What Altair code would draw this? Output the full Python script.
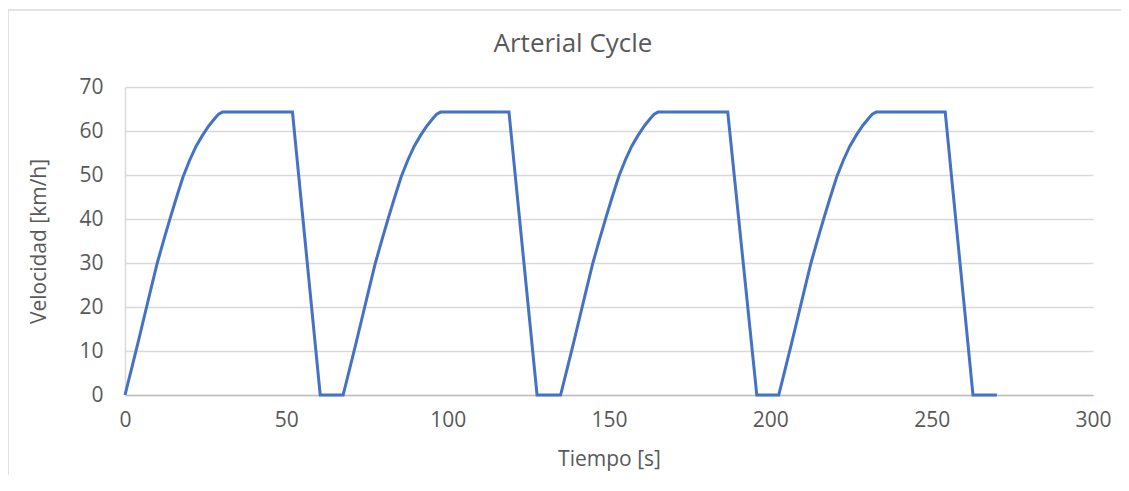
import altair as alt
import pandas as pd

tiempo = [
    0.0, 2.0, 4.0, 6.0, 8.0, 10.0, 12.0, 14.0, 16.0, 18.0, 20.0, 22.0, 24.0, 26.0, 28.0, 29.0, 30.2, 51.9, 60.5,
    67.6, 69.6, 71.6, 73.6, 75.6, 77.6, 79.6, 81.6, 83.6, 85.6, 87.6, 89.6, 91.6, 93.6, 95.6, 96.6, 97.8, 119.0, 127.7,
    135.0, 137.0, 139.0, 141.0, 143.0, 145.0, 147.0, 149.0, 151.0, 153.0, 155.0, 157.0, 159.0, 161.0, 163.0, 164.0, 165.2, 186.8, 195.8,
    202.6, 204.6, 206.6, 208.6, 210.6, 212.6, 214.6, 216.6, 218.6, 220.6, 222.6, 224.6, 226.6, 228.6, 230.6, 231.6, 232.8, 254.2, 262.8,
    270.2,
]
velocidad = [
    0, 5.9, 11.8, 17.9, 24.0, 30.0, 35.2, 40.2, 45.0, 49.6, 53.3, 56.5, 59.0, 61.2, 63.0, 63.8, 64.3, 64.3, 0,
    0, 5.9, 11.8, 17.9, 24.0, 30.0, 35.2, 40.2, 45.0, 49.6, 53.3, 56.5, 59.0, 61.2, 63.0, 63.8, 64.3, 64.3, 0,
    0, 5.9, 11.8, 17.9, 24.0, 30.0, 35.2, 40.2, 45.0, 49.6, 53.3, 56.5, 59.0, 61.2, 63.0, 63.8, 64.3, 64.3, 0,
    0, 5.9, 11.8, 17.9, 24.0, 30.0, 35.2, 40.2, 45.0, 49.6, 53.3, 56.5, 59.0, 61.2, 63.0, 63.8, 64.3, 64.3, 0,
    0,
]
x_ticks = [0, 50, 100, 150, 200, 250, 300]
y_ticks = [0, 10, 20, 30, 40, 50, 60, 70]
titulo = ["Arterial Cycle"]

df = pd.DataFrame({"t": tiempo, "v": velocidad, "i": list(range(len(tiempo)))})
df_title = pd.DataFrame({"label": titulo})

FONT = "Open Sans"
GREY = "#595959"
GRID = "#d9d9d9"

line = alt.Chart(df).mark_line(color="#4472C4", strokeWidth=3).encode(
    x=alt.X("t:Q", scale=alt.Scale(domain=[0, 300], nice=False),
            axis=alt.Axis(values=x_ticks, title="Tiempo [s]", grid=False,
                          domain=True, domainColor="#bfbfbf", domainWidth=1.5,
                          ticks=False, labelPadding=14, titlePadding=18,
                          labelFlush=False,
                          labelFontSize=21, titleFontSize=21, labelColor=GREY,
                          titleColor=GREY, labelFont=FONT, titleFont=FONT,
                          titleFontWeight="normal")),
    y=alt.Y("v:Q", scale=alt.Scale(domain=[0, 70], nice=False),
            axis=alt.Axis(values=y_ticks, title="Velocidad [km/h]", grid=True,
                          gridColor=GRID, gridWidth=1.5, domain=True,
                          domainColor=GRID, domainWidth=1.5, ticks=False,
                          labelFlush=False,
                          labelPadding=22, titlePadding=29, labelFontSize=21,
                          titleFontSize=21, labelColor=GREY, titleColor=GREY,
                          labelFont=FONT, titleFont=FONT, titleFontWeight="normal")),
    order="i:Q",
)

title = alt.Chart(df_title).mark_text(
    font=FONT, fontSize=26, color=GREY, align="center", baseline="middle"
).encode(text="label:N", x=alt.value(448), y=alt.value(-43))

border_top = alt.Chart(df_title).mark_rule(color=GRID, strokeWidth=1.5).encode(
    x=alt.value(-117), x2=alt.value(1010), y=alt.value(-77)
)
border_left = alt.Chart(df_title).mark_rule(color=GRID, strokeWidth=1.5).encode(
    x=alt.value(-117), y=alt.value(-77), y2=alt.value(390)
)

chart = alt.layer(border_top, border_left, line, title).properties(
    width=968,
    height=308,
    autosize=alt.AutoSizeParams(type="none"),
    padding={"left": 117, "top": 79, "right": 28, "bottom": 80},
).configure_view(stroke=None)

chart.save("out.html", embed_options={"renderer": "svg", "actions": False})
